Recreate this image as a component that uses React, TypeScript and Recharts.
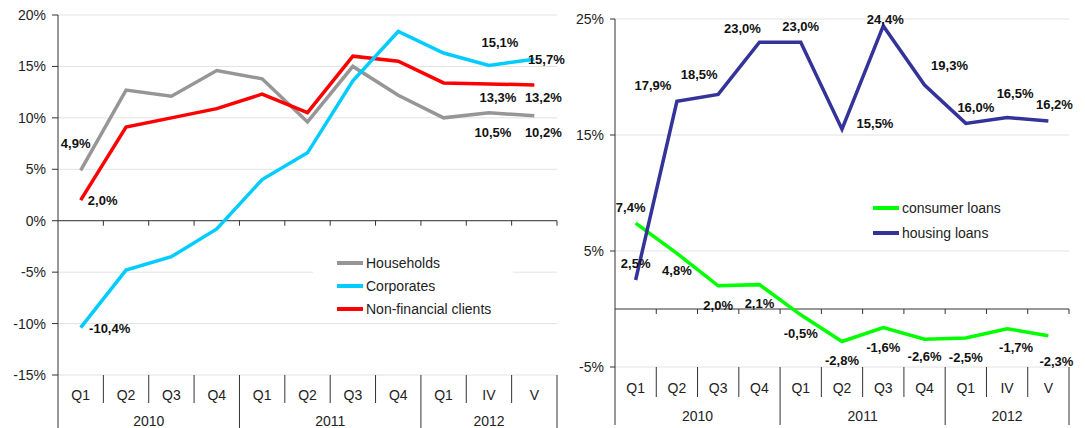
import React from "react";
import {
  CartesianGrid,
  LabelList,
  Legend,
  Line,
  LineChart,
  ReferenceLine,
  XAxis,
  YAxis,
} from "recharts";

const quarters = ["Q1", "Q2", "Q3", "Q4", "Q1", "Q2", "Q3", "Q4", "Q1", "IV", "V"];
const yearLabels = ["2010", "2011", "2012"];
const yearStarts = [0, 4, 8];

const households = [4.9, 12.7, 12.1, 14.6, 13.8, 9.6, 15.0, 12.2, 10.0, 10.5, 10.2];
const corporates = [-10.4, -4.8, -3.5, -0.8, 4.0, 6.6, 13.6, 18.4, 16.3, 15.1, 15.7];
const nonFinancial = [2.0, 9.1, 10.0, 10.9, 12.3, 10.5, 16.0, 15.5, 13.4, 13.3, 13.2];

const consumerLoans = [7.4, 4.8, 2.0, 2.1, -0.5, -2.8, -1.6, -2.6, -2.5, -1.7, -2.3];
const housingLoans = [2.5, 17.9, 18.5, 23.0, 23.0, 15.5, 24.4, 19.3, 16.0, 16.5, 16.2];

const leftTicks = [-15, -10, -5, 0, 5, 10, 15, 20];
const rightTicks = [-5, 5, 15, 25];

const leftRows = quarters.map((q, i) => ({
  q,
  Households: households[i],
  Corporates: corporates[i],
  "Non-financial clients": nonFinancial[i],
}));
const rightRows = quarters.map((q, i) => ({
  q,
  "consumer loans": consumerLoans[i],
  "housing loans": housingLoans[i],
}));

const FONT = '"Liberation Sans", Arial, sans-serif';
const fmt = (v: number) => v.toFixed(1).replace(".", ",") + "%";

type Off = [number, number] | null;
// label offsets from the point, per index (null = no label)
const hhOff: Off[] = [[-5, -27], null, null, null, null, null, null, null, null, [4, 20], [9, 17]];
const corpOff: Off[] = [[29, 1], null, null, null, null, null, null, null, null, [11, -23], [12, 0]];
const nfOff: Off[] = [[22, 0], null, null, null, null, null, null, null, null, [9, 14], [9, 13]];
const housingOff: Off[] = [
  [0, -17], [-24, -16], [-19, -20], [-17, -14], [0, -16], [33, -6],
  [2, -6], [25, -20], [10, -16], [8, -24], [6, -17],
];
const consumerOff: Off[] = [
  [-5, -16], [0, 17], [0, 20], [0, 19], [0, 19], [0, 19],
  [0, 20], [0, 17], [0, 19], [9, 19], [8, 26],
];

const makeLabel = (offs: Off[]) => (props: any) => {
  const { value, index } = props;
  const px = props.viewBox?.x ?? props.x;
  const py = props.viewBox?.y ?? props.y;
  const o = offs[index];
  if (!o) return null;
  return (
    <text
      x={px + o[0]}
      y={py + o[1]}
      textAnchor="middle"
      dominantBaseline="central"
      fontSize={13}
      fontWeight="bold"
      fill="#111"
      fontFamily={FONT}
    >
      {fmt(value)}
    </text>
  );
};

function CatTick(props: any) {
  const { x, y, index, payload, band, labelDy, yearDy, sepLen, yearLen } = props;
  const left = x - band / 2;
  const right = x + band / 2;
  const yi = yearStarts.indexOf(index);
  const last = index === quarters.length - 1;
  let yearSpan = 0;
  if (yi >= 0) {
    const end = yi + 1 < yearStarts.length ? yearStarts[yi + 1] : quarters.length;
    yearSpan = end - yearStarts[yi];
  }
  return (
    <g>
      <line x1={left} x2={left} y1={y} y2={y + (yi >= 0 ? yearLen : sepLen)} stroke="#333" />
      {last && <line x1={right} x2={right} y1={y} y2={y + yearLen} stroke="#333" />}
      <text
        x={x}
        y={y + labelDy}
        textAnchor="middle"
        dominantBaseline="central"
        fontSize={14}
        fill="#222"
        fontFamily={FONT}
      >
        {payload.value}
      </text>
      {yi >= 0 && (
        <text
          x={left + (yearSpan * band) / 2}
          y={y + yearDy}
          textAnchor="middle"
          dominantBaseline="central"
          fontSize={14}
          fill="#222"
          fontFamily={FONT}
        >
          {yearLabels[yi]}
        </text>
      )}
    </g>
  );
}

const zeroLine = (n: number) => (p: any) => {
  const { x1, x2, y1 } = p;
  const step = (x2 - x1) / n;
  const marks = [];
  for (let k = 1; k <= n; k++) {
    const xx = x1 + k * step;
    marks.push(<line key={k} x1={xx} x2={xx} y1={y1} y2={y1 + 5} stroke="#333" />);
  }
  return (
    <g>
      <line x1={x1} x2={x2} y1={y1} y2={y1} stroke="#333" />
      {marks}
    </g>
  );
};

const makeLegend = (order: string[], style: React.CSSProperties, rowH: number) => (props: any) => {
  const items = [...(props.payload || [])].sort(
    (a: any, b: any) => order.indexOf(a.value) - order.indexOf(b.value)
  );
  return (
    <div style={{ background: "#fff", ...style }}>
      {items.map((it: any) => (
        <div
          key={it.value}
          style={{ display: "flex", alignItems: "center", height: rowH, fontFamily: FONT, fontSize: 14, color: "#222" }}
        >
          <span style={{ display: "inline-block", width: 26, height: 4, background: it.color, marginRight: 3 }} />
          <span>{it.value}</span>
        </div>
      ))}
    </div>
  );
};

const yTick = { fontSize: 14, fill: "#222", fontFamily: FONT };

export default function App() {
  const leftBand = 499 / quarters.length;
  const rightBand = 454 / quarters.length;
  return (
    <div style={{ position: "absolute", left: 0, top: 0, width: 1085, height: 428, background: "#fff" }}>
      <div style={{ position: "absolute", left: 0, top: 0 }}>
        <LineChart width={570} height={428} data={leftRows} margin={{ top: 15, right: 13, left: 0, bottom: 0 }}>
          <CartesianGrid vertical={false} stroke="#e2e2e2" />
          <XAxis
            dataKey="q"
            interval={0}
            height={53}
            padding={{ left: leftBand / 2, right: leftBand / 2 }}
            axisLine={false}
            tickLine={false}
            tickSize={0}
            tickMargin={0}
            tick={(p: any) => (
              <CatTick {...p} band={leftBand} labelDy={20} yearDy={46} sepLen={28} yearLen={53} />
            )}
          />
          <YAxis
            domain={[-15, 20]}
            ticks={leftTicks}
            interval={0}
            width={58}
            tick={yTick}
            tickFormatter={(v: number) => `${v}%`}
            axisLine={{ stroke: "#333" }}
            tickLine={{ stroke: "#333" }}
            tickSize={6}
            tickMargin={6}
          />
          <ReferenceLine y={0} shape={zeroLine(quarters.length)} />
          <Legend
            layout="vertical"
            align="center"
            verticalAlign="middle"
            wrapperStyle={{ left: 313, top: 250, width: 200, height: 72 }}
            content={makeLegend(
              ["Households", "Corporates", "Non-financial clients"],
              { paddingLeft: 24, paddingTop: 1.5, height: 70 },
              23
            )}
          />
          <Line dataKey="Households" stroke="#969696" strokeWidth={3.5} dot={false} isAnimationActive={false}>
            <LabelList dataKey="Households" content={makeLabel(hhOff)} />
          </Line>
          <Line dataKey="Non-financial clients" stroke="#ff0000" strokeWidth={3.5} dot={false} isAnimationActive={false}>
            <LabelList dataKey="Non-financial clients" content={makeLabel(nfOff)} />
          </Line>
          <Line dataKey="Corporates" stroke="#00ccff" strokeWidth={3.5} dot={false} isAnimationActive={false}>
            <LabelList dataKey="Corporates" content={makeLabel(corpOff)} />
          </Line>
        </LineChart>
      </div>
      <div style={{ position: "absolute", left: 570, top: 0 }}>
        <LineChart width={515} height={428} data={rightRows} margin={{ top: 19, right: 16, left: 0, bottom: 0 }}>
          <CartesianGrid vertical={false} stroke="#e2e2e2" />
          <XAxis
            dataKey="q"
            interval={0}
            height={61}
            padding={{ left: rightBand / 2, right: rightBand / 2 }}
            axisLine={false}
            tickLine={false}
            tickSize={0}
            tickMargin={0}
            tick={(p: any) => (
              <CatTick {...p} band={rightBand} labelDy={21} yearDy={49} sepLen={30} yearLen={58} />
            )}
          />
          <YAxis
            domain={[-5, 25]}
            ticks={rightTicks}
            interval={0}
            width={45}
            tick={yTick}
            tickFormatter={(v: number) => `${v}%`}
            axisLine={{ stroke: "#333" }}
            tickLine={{ stroke: "#333" }}
            tickSize={5}
            tickMargin={6}
          />
          <ReferenceLine y={0} shape={zeroLine(quarters.length)} />
          <Legend
            layout="vertical"
            align="center"
            verticalAlign="middle"
            wrapperStyle={{ left: 290, top: 195, width: 180, height: 52 }}
            content={makeLegend(["consumer loans", "housing loans"], { paddingLeft: 13, height: 50 }, 25)}
          />
          <Line dataKey="consumer loans" stroke="#00ff00" strokeWidth={3.5} dot={false} isAnimationActive={false}>
            <LabelList dataKey="consumer loans" content={makeLabel(consumerOff)} />
          </Line>
          <Line dataKey="housing loans" stroke="#333399" strokeWidth={3.5} dot={false} isAnimationActive={false}>
            <LabelList dataKey="housing loans" content={makeLabel(housingOff)} />
          </Line>
        </LineChart>
      </div>
    </div>
  );
}
